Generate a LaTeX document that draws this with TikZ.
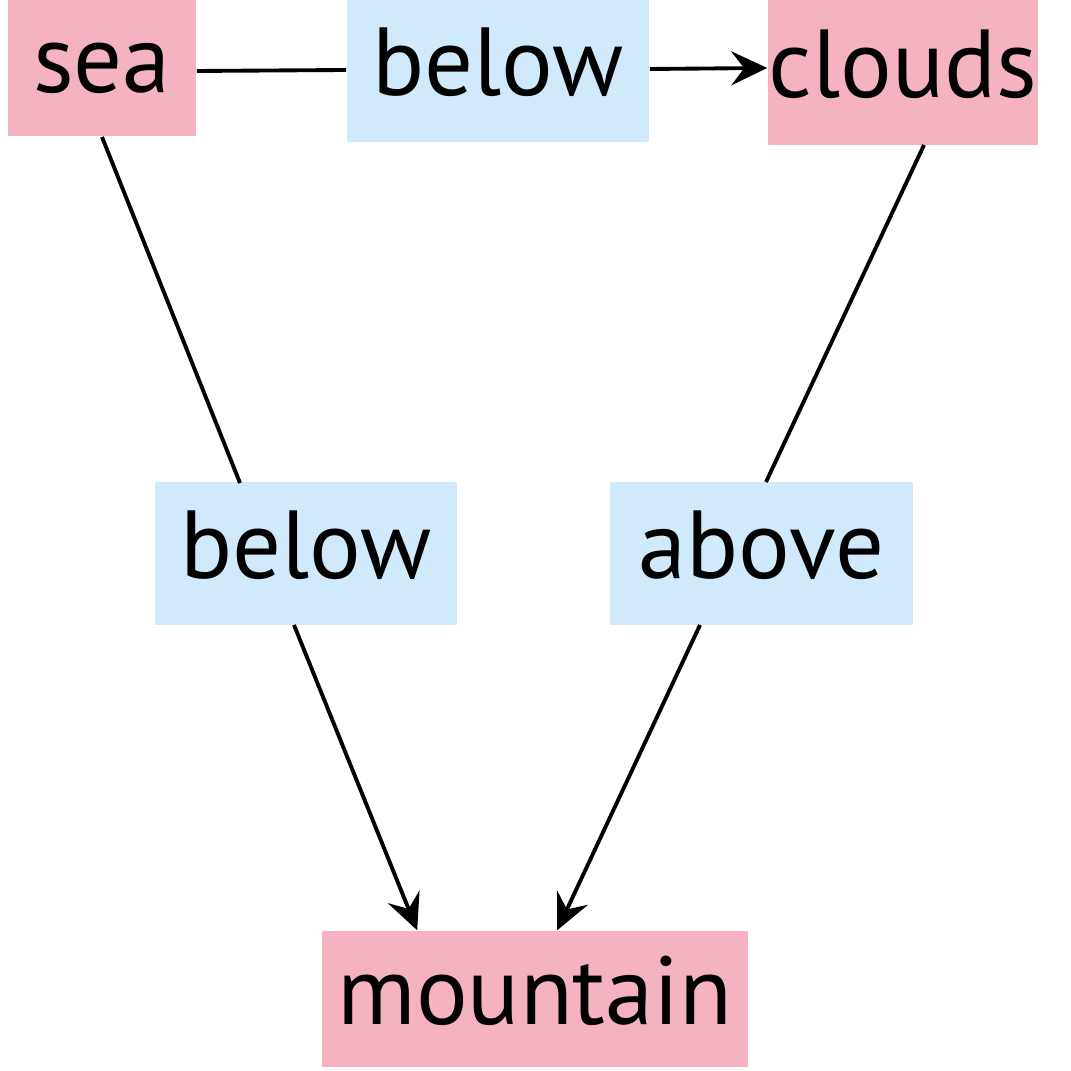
\documentclass[tikz,border=0pt]{standalone}
\usepackage{fontspec}
\setmainfont{PT Sans}
\usetikzlibrary{arrows.meta,calc}
\definecolor{conceptpink}{RGB}{245,179,194}
\definecolor{relblue}{RGB}{208,234,251}
\tikzset{
  boxtext/.style={inner sep=0pt, text height=0.65cm, text depth=0.15cm, font=\fontsize{27.5}{33}\selectfont},
  concept/.style={boxtext, fill=conceptpink},
  rel/.style={boxtext, fill=relblue},
  link/.style={line width=1.1pt, draw=black},
  arrowlink/.style={link, -{Stealth[length=0.36cm,width=0.34cm,inset=0.13cm]}},
}
\begin{document}
\begin{tikzpicture}[x=0.01cm,y=-0.01cm]
\useasboundingbox (0,0) rectangle (1070,1071);
\node[concept, minimum width=1.88cm, minimum height=1.36cm] (sea) at (102,68) {sea};
\node[concept, minimum width=2.70cm, minimum height=1.45cm] (clouds) at (903,72.5) {clouds};
\node[concept, minimum width=4.26cm, minimum height=1.36cm] (mountain) at (535,999) {mountain};
\node[rel, minimum width=3.02cm, minimum height=1.42cm] (r1) at (498,71) {below};
\node[rel, minimum width=3.02cm, minimum height=1.43cm] (r2) at (306,553.5) {below};
\node[rel, minimum width=3.03cm, minimum height=1.43cm] (r3) at (761.5,553.5) {above};
\coordinate (mtl) at ($(mountain.north west)+(96,0)$);
\coordinate (mtr) at ($(mountain.north west)+(236,0)$);
\draw[link] (sea.east |- 0,71) -- (r1.west |- 0,70);
\draw[arrowlink] (r1.east |- 0,69) -- (clouds.west |- 0,68);
\draw[link] (102,137) -- (240,483);
\draw[arrowlink] (294,625) -- (mtl);
\draw[link] (924,145) -- (766,482);
\draw[arrowlink] (700,625) -- (mtr);
\end{tikzpicture}
\end{document}
